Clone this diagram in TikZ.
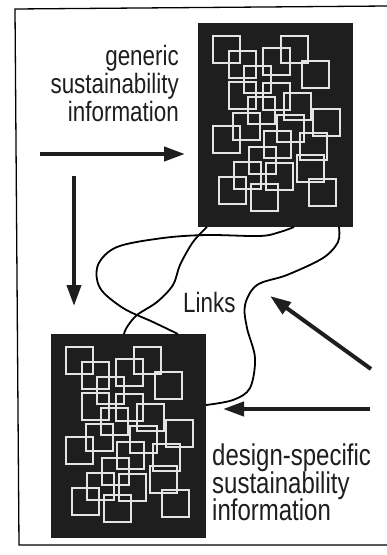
\documentclass[tikz,border=0pt]{standalone}
\usepackage{fontspec}
\setmainfont[FakeStretch=0.8]{Liberation Sans}
\usetikzlibrary{arrows.meta}
\definecolor{ink}{HTML}{1E1E1E}
\definecolor{sq}{HTML}{E4E4E4}
\tikzset{
  panel/.style={fill=ink, draw=none, minimum width=155pt, minimum height=204pt,
    inner sep=0pt, outer sep=0pt, anchor=north west},
  sqr/.style={draw=sq, line width=2pt},
  bigarrow/.style={draw=ink, line width=4pt, -{Triangle[length=21pt,width=14pt]}},
  link/.style={draw=black, line width=1.8pt},
  lbltop/.style={text=ink, inner sep=0pt, font=\fontsize{28}{28}\selectfont},
  lblbot/.style={text=ink, inner sep=0pt, font=\fontsize{30}{30}\selectfont},
  frame/.style={draw=black, line width=1.3pt},
}
\newcommand{\squarepattern}[1]{%
  \foreach \x/\y in {15/13,83/13,31/28,65/25,104/38,46/43,31/59,65/60,86/70,50/74,
    115/86,35/90,79/92,15/103,66/108,102/110,51/124,99/132,36/139,68/140,21/154,53/161,111/156}
    {\draw[sqr] ([shift={(\x,\y)}]#1.north west) rectangle ++(26.5,26.5);}%
}
\begin{document}
\begin{tikzpicture}[x=1pt,y=-1pt]
\useasboundingbox (0,0) rectangle (387,555);
\fill[white] (0,0) rectangle (387,555);
% frame
\draw[frame] (387,6) -- (15,9) -- (19,545) -- (387,545);
% panels
\node[panel] (tb) at (198,23) {};
\node[panel] (bb) at (51,334) {};
\squarepattern{tb}
\squarepattern{bb}
% labels
\node[lbltop, anchor=base east] (g1) at (179,65) {generic};
\node[lbltop, anchor=base east] (g2) at (179,93) {sustainability};
\node[lbltop, anchor=base east] (g3) at (179,121) {information};
\node[lbltop, anchor=base west] (lk) at (183,312) {Links};
\node[lblbot, anchor=base west] (d1) at (212,465) {design-specific};
\node[lblbot, anchor=base west] (d2) at (212,493) {sustainability};
\node[lblbot, anchor=base west] (d3) at (212,520) {information};
% arrows
\coordinate (a1s) at (40,154);  \coordinate (a1e) at (185,154);
\coordinate (a2s) at (74,176);  \coordinate (a2e) at (74,306);
\coordinate (a3s) at (371,369); \coordinate (a3e) at (270,296);
\coordinate (a4s) at (370,409); \coordinate (a4e) at (223,409);
\draw[bigarrow] (a1s) -- (a1e);
\draw[bigarrow] (a2s) -- (a2e);
\draw[bigarrow] (a3s) -- (a3e);
\draw[bigarrow] (a4s) -- (a4e);
% links
\coordinate (c1a) at ([xshift=9pt]tb.south west);
\coordinate (c1b) at ([xshift=73pt]bb.north west);
\coordinate (c2a) at ([xshift=96pt]tb.south west);
\coordinate (c2b) at ([xshift=127pt]bb.north west);
\coordinate (c3a) at ([xshift=141pt]tb.south west);
\coordinate (c3b) at ([yshift=-71pt]bb.north east);
\draw[link] plot[smooth, tension=0.55] coordinates {(c1a) (193,242) (180,265) (173,285) (157,302) (137,315) (127,327) (c1b)};
\draw[link] plot[smooth, tension=0.55] coordinates {(c2a) (280,232) (260,236) (207,235) (163,238) (117,247) (98,265) (100,288) (123,308) (153,322) (c2b)};
\draw[link] plot[smooth, tension=0.55] coordinates {(c3a) (338,242) (323,258) (287,275) (257,285) (245,305) (247,328) (255,358) (250,388) (233,400) (c3b)};
\end{tikzpicture}
\end{document}
